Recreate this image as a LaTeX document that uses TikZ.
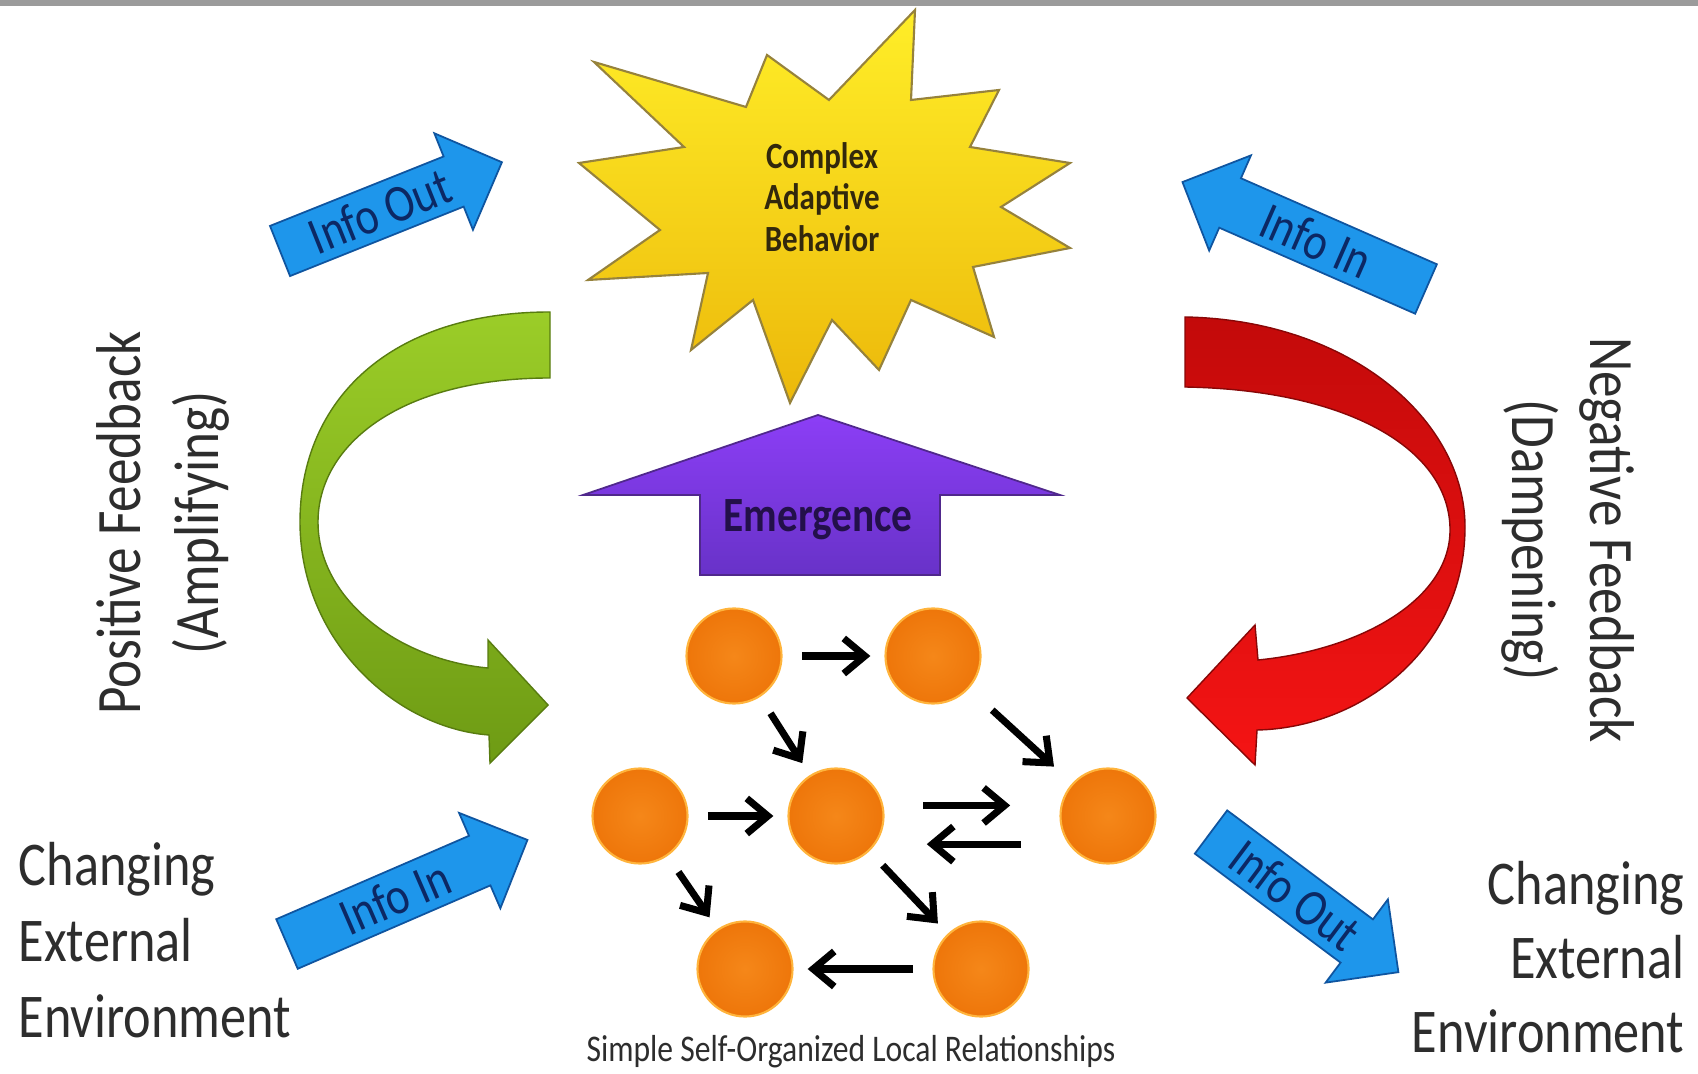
\documentclass[tikz,border=0pt]{standalone}
\usepackage{fontspec}
\setmainfont{Carlito}[FakeStretch=0.84]
\usetikzlibrary{arrows.meta}

\definecolor{starhi}{RGB}{255,238,40}
\definecolor{starlo}{RGB}{236,184,10}
\definecolor{staredge}{RGB}{150,130,60}
\definecolor{startext}{RGB}{50,40,12}
\definecolor{emtop}{RGB}{140,62,246}
\definecolor{embot}{RGB}{104,50,200}
\definecolor{emedge}{RGB}{80,40,140}
\definecolor{emtext}{RGB}{35,16,74}
\definecolor{infoblue}{RGB}{30,150,235}
\definecolor{infoedge}{RGB}{15,85,160}
\definecolor{infotext}{RGB}{12,40,100}
\definecolor{posgreen}{RGB}{155,205,40}
\definecolor{posdark}{RGB}{110,155,20}
\definecolor{negred}{RGB}{195,10,10}
\definecolor{negbright}{RGB}{245,20,20}
\definecolor{ballin}{RGB}{245,135,25}
\definecolor{ballout}{RGB}{238,118,10}
\definecolor{ballrim}{RGB}{255,180,60}
\definecolor{labelgray}{RGB}{45,45,45}
\definecolor{topbar}{RGB}{155,155,155}

\tikzset{
	ball/.style={circle, minimum size=0.95cm, inner sep=0pt, inner color=ballin, outer color=ballout, draw=ballrim, line width=0.6pt},
	link/.style={-{Straight Barb[length=6pt,width=10pt]}, line width=2pt, shorten <=5.5pt, shorten >=4pt},
	biglabel/.style={text=labelgray, inner sep=0pt, font=\fontsize{18}{22}\selectfont},
	infolabel/.style={text=infotext, inner sep=0pt, font=\fontsize{15}{18}\selectfont},
}

\newcommand{\infoarrow}[6]{%
	\begin{scope}[shift={#2}, rotate=#3]
		\fill[infoblue, draw=infoedge, line width=0.5pt]
			(0,-27) -- ({#4-52},-27) -- ({#4-52},-52) -- (#4,0) -- ({#4-52},52) -- ({#4-52},27) -- (0,27) -- cycle;
		\node[infolabel, rotate=#5] (#1) at ({0.45*#4},0) {#6};
	\end{scope}}

\begin{document}
\begin{tikzpicture}[x=0.01cm, y=-0.01cm]
	\useasboundingbox (0,0) rectangle (1698,1074);
	\fill[white] (0,0) rectangle (1698,1074);
	\fill[topbar] (0,0) rectangle (1698,6);
	
	\shade[top color=starhi, bottom color=starlo, draw=staredge, line width=0.6pt]
		(915,10) -- (911,100) -- (999,90) -- (970,147) -- (1070,163) -- (1001,207) -- (1070,248) -- (973,267)
		-- (994,337) -- (911,300) -- (879,370) -- (832,320) -- (790,403) -- (753,300) -- (691,350) -- (708,273)
		-- (588,280) -- (660,230) -- (579,163) -- (684,147) -- (594,62) -- (746,107) -- (767,55) -- (829,100) -- cycle;
	\node[align=center, text=startext, font=\bfseries\fontsize{10.5}{11.8}\selectfont] (cab) at (822,197) {Complex\\Adaptive\\Behavior};
	
	\shade[top color=emtop, bottom color=embot, draw=emedge, line width=0.5pt]
		(818,415) -- (1060,495) -- (940,495) -- (940,575) -- (700,575) -- (700,495) -- (583,495) -- cycle;
	\node[anchor=base, inner sep=0pt, text=emtext, font=\bfseries\fontsize{14}{16}\selectfont] (emerge) at (818,532) {Emergence};
	
	\shade[top color=posgreen, bottom color=posdark, draw=posdark!80!black, line width=0.4pt]
		(550,312) .. controls (390,312) and (300,400) .. (300,522) .. controls (300,640) and (395,728) .. (489,735)
		-- (490,763) -- (548,705) -- (488,640) -- (488,668)
		.. controls (400,660) and (318,600) .. (318,522) .. controls (318,445) and (400,378) .. (550,378) -- cycle;
	
	\shade[top color=negred, bottom color=negbright, draw=negred!70!black, line width=0.4pt]
		(1185,317) .. controls (1350,320) and (1465,420) .. (1465,527) .. controls (1465,650) and (1360,728) .. (1257,730)
		-- (1255,765) -- (1187,698) -- (1255,625) -- (1258,660)
		.. controls (1360,650) and (1450,600) .. (1450,530) .. controls (1450,450) and (1350,390) .. (1185,387) -- cycle;
	
	\infoarrow{outL}{(280,251)}{21.8}{239}{21.8}{Info Out}
	\infoarrow{inR}{(1426,289)}{156.3}{266}{-23.7}{Info In}
	\infoarrow{inL}{(287,944)}{23.4}{262}{23.4}{Info In}
	\infoarrow{outR}{(1211,832)}{-36.8}{234}{-36.8}{Info Out}
	
	\foreach \n/\x/\y in {A/734/656, B/933/656, C/640/816, D/836/816, E/1108/816, F/745/969, G/981/969}
	\node[ball] (\n) at (\x,\y) {};
	
	\foreach \a/\b in {A/B, A/D, C/D, C/F, D/G, G/F}
	\draw[link] (\a) -- (\b);
	\draw[link, shorten <=9pt, shorten >=7pt] (B) -- (E);
	\draw[link, shorten <=11pt, shorten >=14pt] ([yshift=3pt]D.east) -- ([yshift=3pt]E.west);
	\draw[link, shorten <=11pt, shorten >=12pt] ([yshift=-8pt]E.west) -- ([yshift=-8pt]D.east);
	
	\node[biglabel, rotate=90, align=center] (posfb) at (163,523) {Positive Feedback\\(Amplifying)};
	\node[biglabel, rotate=-90, align=center] (negfb) at (1568,540) {Negative Feedback\\(Dampening)};
	\node[biglabel, anchor=north west, align=left, font=\fontsize{17.7}{21.6}\selectfont] (envL) at (18,842) {Changing\\External\\Environment};
	\node[biglabel, anchor=north east, align=right, font=\fontsize{17.7}{21}\selectfont] (envR) at (1685,861) {Changing\\External\\Environment};
	\node[text=labelgray, font=\fontsize{10.7}{12}\selectfont] (caption) at (851,1052) {Simple Self-Organized Local Relationships};
\end{tikzpicture}
\end{document}
